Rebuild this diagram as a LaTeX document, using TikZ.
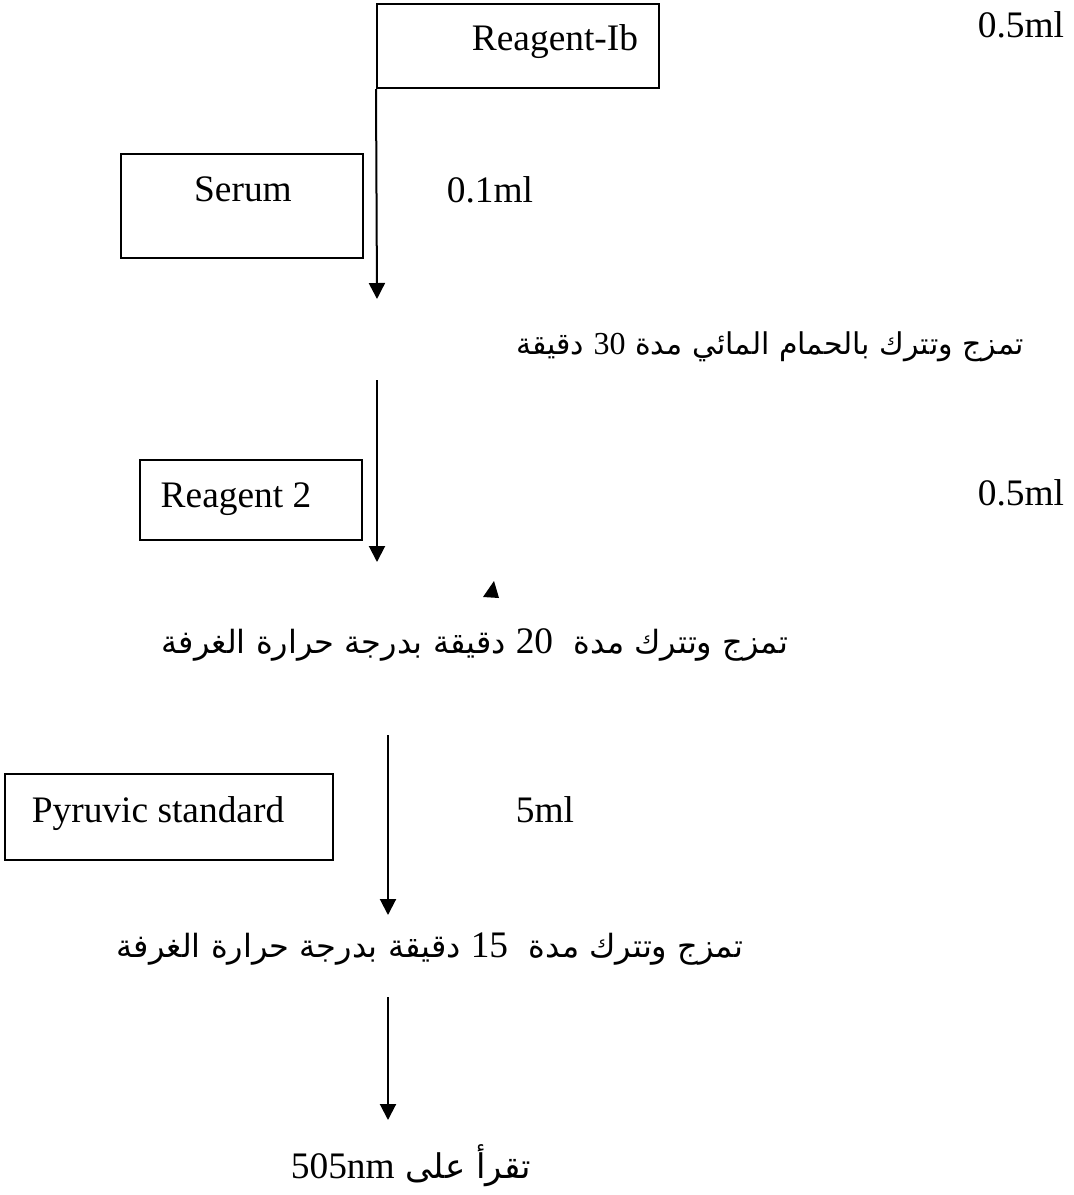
\documentclass[tikz,border=0pt]{standalone}
\usepackage{fontspec}
\setmainfont{Liberation Serif}
\newfontfamily\arabicfont[Script=Arabic]{DejaVu Sans}
\TeXXeTstate=1
\usetikzlibrary{arrows.meta}
\newcommand{\lat}[1]{{\rmfamily\beginL #1\endL}}

\tikzset{
  box/.style={draw, line width=1pt, inner sep=0pt},
  flow/.style={line width=1pt, -{Triangle[length=8pt,width=8pt]}},
  txt/.style={anchor=base, inner sep=0pt, font=\fontsize{18.7}{22}\selectfont},
  ar/.style={anchor=base, inner sep=0pt, font=\fontsize{#1}{#1}\arabicfont},
  ar/.default=16
}

\begin{document}
\begin{tikzpicture}[x=0.5pt,y=-0.5pt]
  \useasboundingbox (0,0) rectangle (1073,1195);
  % boxes
  \node[box, minimum width=141pt, minimum height=42pt] (rib) at (518,46) {};
  \node[box, minimum width=121pt, minimum height=52pt] (serum) at (242,206) {};
  \node[box, minimum width=111pt, minimum height=40pt] (reag2) at (251,500) {};
  \node[box, minimum width=164pt, minimum height=43pt] (pyr) at (169,817) {};
  % labels
  \foreach \x/\y/\name/\t in {%
    555/50/ribt/Reagent-Ib, 243/201/serumt/Serum, 236/507/reagt/Reagent 2,
    158/822/pyrt/Pyruvic standard, 1021/37/vol1/0.5ml, 490/202/vol2/0.1ml,
    1021/505/vol3/0.5ml, 545/822/vol4/5ml}
    \node[txt] (\name) at (\x,\y) {\t};
  % steps
  \node[ar=15] (mix1) at (770,354) {\beginR تمزج وتترك بالحمام المائي مدة {\fontsize{16}{18}\lat{30}} دقيقة\endR};
  \node[ar] (mix2) at (475,653) {\beginR تمزج وتترك مدة~ {\fontsize{18.7}{22}\lat{20}} دقيقة بدرجة حرارة الغرفة\endR};
  \node[ar] (mix3) at (430,957) {\beginR تمزج وتترك مدة~ {\fontsize{18.7}{22}\lat{15}} دقيقة بدرجة حرارة الغرفة\endR};
  \node[ar=17] (read) at (411,1178) {\beginR تقرأ على {\fontsize{18.7}{22}\lat{505nm}}\endR};
  % arrows
  \coordinate (a1) at (377,299);
  \coordinate (b2) at (377,380);
  \coordinate (a2) at (377,562);
  \coordinate (b3) at (388,735);
  \coordinate (a3) at (388,915);
  \coordinate (b4) at (388,997);
  \coordinate (a4) at (388,1120);
  \draw[flow] (rib.south west) -- (a1);
  \draw[flow] (b2) -- (a2);
  \draw[flow] (b3) -- (a3);
  \draw[flow] (b4) -- (a4);
  \fill (494,581) -- (483,597) -- (499,598) -- cycle;
\end{tikzpicture}
\end{document}
